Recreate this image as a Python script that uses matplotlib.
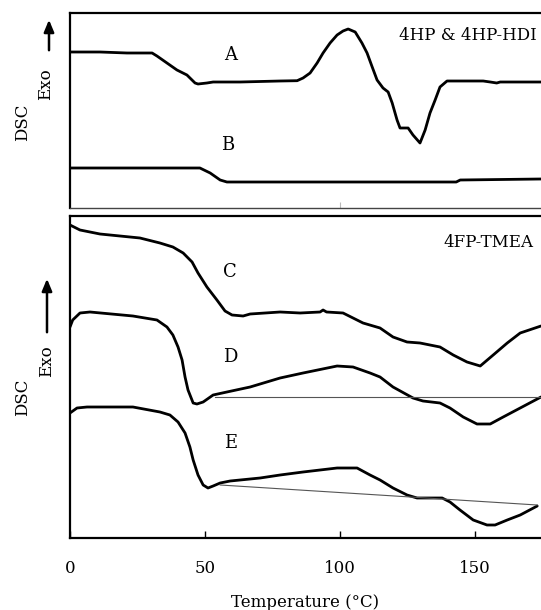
import matplotlib.pyplot as plt

# temperatures (C) and signal (arbitrary units)
a_t = [0, 11.1, 21.1, 30.4, 32.2, 35.9, 39.6, 43.3, 46.3, 47.4, 50.7, 53.0, 63.0, 77.8,
       84.1, 86.3, 88.9, 91.5, 93.7, 96.3, 98.9, 101.1, 103.0, 105.6, 108.1, 110.0,
       111.9, 113.7, 115.9, 117.8, 119.3, 121.1, 122.2, 125.2, 127.0, 129.6, 131.5,
       133.3, 135.2, 137.0, 139.6, 153.0, 155.6, 158.0, 159.3, 174.4]
a_y = [156, 156, 155, 155, 152, 145, 138, 133, 125, 124, 125, 126, 126, 127,
       127.3, 130, 135, 145, 155, 165, 173, 177, 179, 176, 165, 155,
       141, 128, 120, 116, 105, 88, 80, 80, 73, 65, 78,
       95, 108, 121, 127, 127, 126, 125, 126, 126]

b_t = [0, 31.0, 48.1, 51.9, 55.6, 58.1, 100.0, 143.0, 144.5, 174.4]
b_y = [40, 40, 40, 35, 28, 26, 26, 26, 28, 29]

c_t = [0, 3.7, 11.1, 25.9, 33.3, 38.1, 41.9, 45.2, 47.4, 50.7, 54.4, 57.4, 60.0, 64.1,
       66.7, 77.8, 85.2, 92.6, 93.7, 95.0, 101.1, 108.5, 114.8, 119.6, 124.8, 129.6,
       137.0, 141.9, 147.0, 151.9, 156.7, 161.9, 166.7, 174.4]
c_y = [313, 308, 304, 300, 295, 291, 285, 276, 265, 251, 238, 227, 223, 222,
       224, 226, 225, 226, 228, 226, 225, 215, 210, 201, 196, 195,
       191, 183, 176, 172, 183, 195, 205, 212]

d_t = [0, 1.0, 3.7, 7.4, 23.3, 32.2, 35.9, 38.1, 40.0, 41.5, 42.6, 43.7, 45.6, 47.0,
       49.3, 53.0, 58.1, 66.7, 77.8, 86.3, 98.9, 104.8, 111.1, 114.8, 119.6, 127.0,
       130.7, 137.0, 140.7, 145.6, 150.7, 155.6, 160.4, 166.7, 173.0, 174.4]
d_y = [211, 218, 225, 226, 222, 218, 211, 203, 191, 178, 161, 148, 135, 134,
       136, 143, 146, 151, 160, 165, 172, 171, 165, 161, 151, 140,
       137, 135, 130, 121, 114, 114, 121, 130, 139, 141]
d_base_t = [53.7, 174.4]
d_base_y = [141, 141]

e_t = [0, 2.6, 6.3, 23.3, 33.3, 37.0, 40.0, 42.6, 44.4, 45.6, 47.4, 49.3, 51.1, 53.0,
       55.6, 59.3, 70.4, 77.8, 86.3, 98.9, 106.3, 111.1, 114.8, 119.6, 124.8, 128.5,
       137.8, 140.7, 144.4, 149.3, 154.4, 157.4, 161.9, 166.7, 173.0]
e_y = [125, 130, 131, 131, 126, 123, 116, 105, 91, 78, 63, 53, 50, 52,
       55, 57, 60, 63, 66, 70, 70, 63, 58, 50, 43, 40,
       40, 36, 28, 18, 13, 13, 18, 23, 32]
e_base_t = [55.6, 173.0]
e_base_y = [53, 33]

curve_labels_top = [('A', 59.3, 153), ('B', 58.5, 63)]
curve_labels_bot = [('C', 59.3, 266), ('D', 59.3, 181), ('E', 59.3, 95)]

plt.rcParams['font.family'] = 'DejaVu Serif'
plt.rcParams['font.size'] = 12

W, H = 541, 610
fig = plt.figure(figsize=(W / 100, H / 100), dpi=100)


def fx(px):
    return px / W


def fy(py):
    return 1 - py / H


ax1 = fig.add_axes([fx(70), fy(208), 1 - fx(70), fy(13) - fy(208)])
ax2 = fig.add_axes([fx(70), fy(538), 1 - fx(70), fy(216) - fy(538)])

lw = 2.0
for ax, t, y in [(ax1, a_t, a_y), (ax1, b_t, b_y), (ax2, c_t, c_y),
                 (ax2, d_t, d_y), (ax2, e_t, e_y)]:
    ax.plot(t, y, color='black', lw=lw, solid_joinstyle='round', solid_capstyle='round')
ax2.plot(d_base_t, d_base_y, color='#555555', lw=0.8)
ax2.plot(e_base_t, e_base_y, color='#555555', lw=0.8)

for lab, x, y in curve_labels_top:
    ax1.text(x, y, lab, ha='center', va='center', fontsize=13)
for lab, x, y in curve_labels_bot:
    ax2.text(x, y, lab, ha='center', va='center', fontsize=13)

ax1.text(173, 173, '4HP & 4HP-HDI', ha='right', va='center', fontsize=12)
ax2.text(171.5, 296, '4FP-TMEA', ha='right', va='center', fontsize=12)

ax1.set_xlim(0, 174.4)
ax1.set_ylim(0, 195)
ax2.set_xlim(0, 174.4)
ax2.set_ylim(0, 322)

for ax in (ax1, ax2):
    ax.spines['right'].set_visible(False)
    for s in ('left', 'top'):
        ax.spines[s].set_linewidth(1.6)
    ax.set_yticks([])

ax1.spines['bottom'].set_linewidth(1.0)
ax1.spines['bottom'].set_color('#444444')
ax1.set_xticks([100])
ax1.tick_params(axis='x', direction='in', length=4, color='#bbbbbb', labelbottom=False)

ax2.spines['bottom'].set_linewidth(1.6)
ax2.set_xticks([0, 50, 100, 150])
ax2.tick_params(axis='x', direction='in', length=5, width=1, pad=16, labelsize=12)
ax2.set_xlabel('Temperature (°C)', fontsize=12, labelpad=12)

# y-axis side labels: DSC, Exo and the upward arrow
fig.text(fx(23), fy(122), 'DSC', rotation=90, ha='center', va='center', fontsize=12)
fig.text(fx(46), fy(84), 'Exo', rotation=90, ha='center', va='center', fontsize=12)
fig.text(fx(23), fy(397), 'DSC', rotation=90, ha='center', va='center', fontsize=12)
fig.text(fx(47), fy(361), 'Exo', rotation=90, ha='center', va='center', fontsize=12)
arrowprops = dict(arrowstyle='-|>,head_length=0.6,head_width=0.25', color='black', lw=1.8)
fig.add_artist(plt.Annotation('', xy=(fx(49), fy(17)), xytext=(fx(49), fy(53)),
                              xycoords='figure fraction', arrowprops=arrowprops))
fig.add_artist(plt.Annotation('', xy=(fx(47), fy(276)), xytext=(fx(47), fy(335)),
                              xycoords='figure fraction', arrowprops=arrowprops))

fig.savefig('out.png', dpi=100)
